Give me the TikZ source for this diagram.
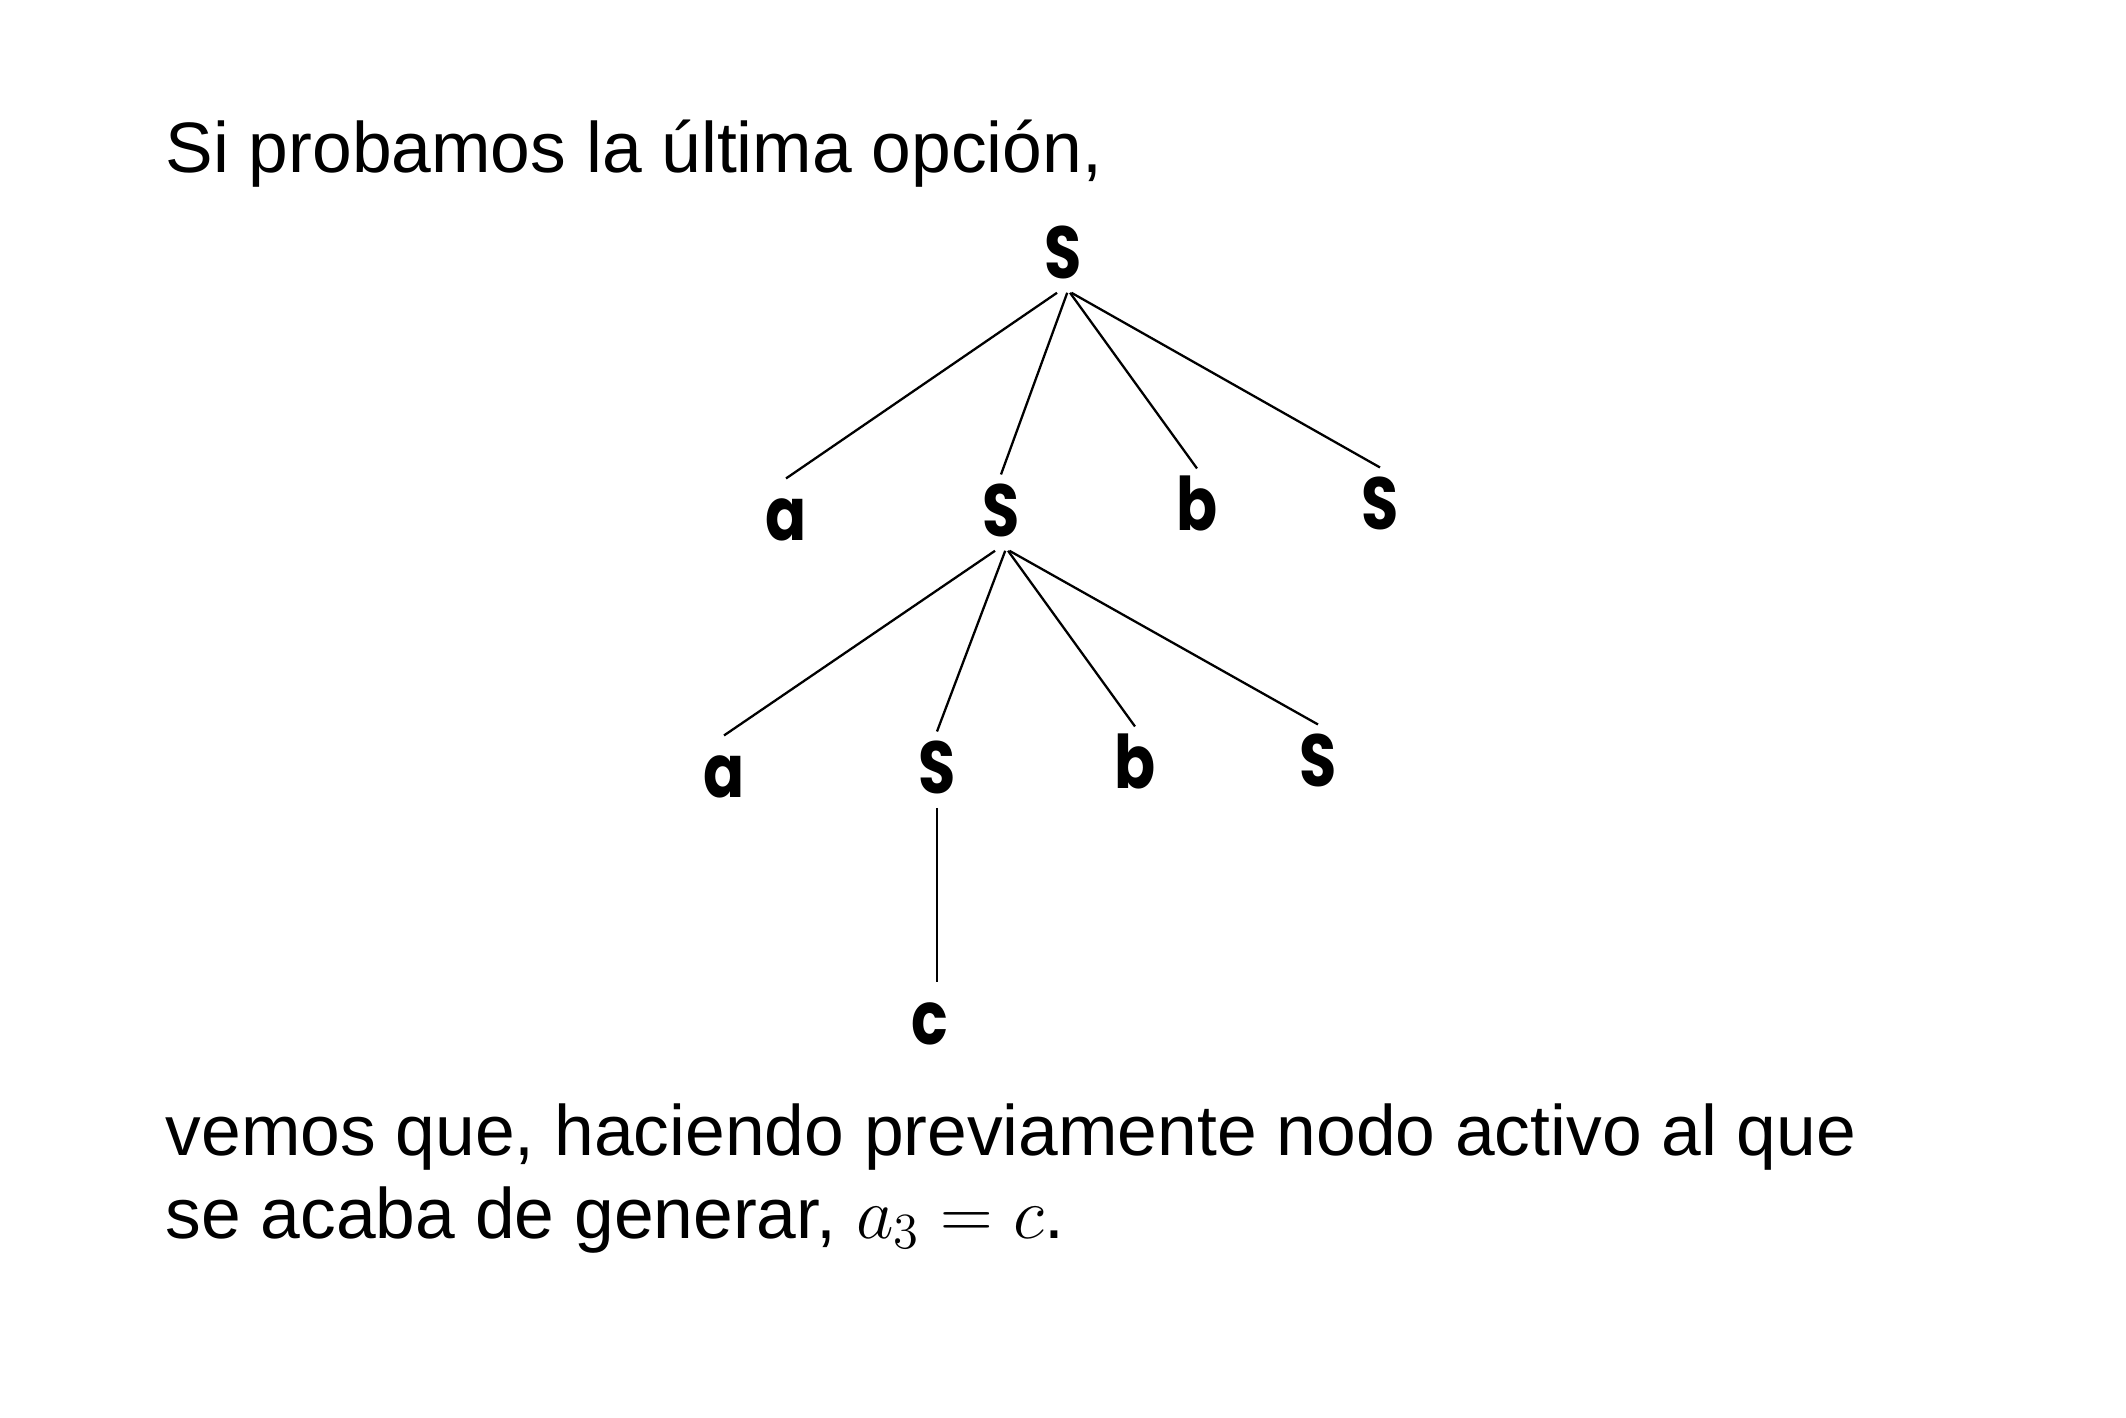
\documentclass[tikz,border=0pt]{standalone}
\usepackage{fontspec}
\setmainfont{Liberation Sans}
\newfontfamily\arbolfont{Poppins}[FakeStretch=0.82]
\usepackage{tikz}
\usetikzlibrary{positioning,calc}

\begin{document}
\begin{tikzpicture}[x=0.01cm,y=-0.01cm,
    texto/.style = {anchor=base west,inner sep=0pt,
                    font=\fontsize{20.3pt}{23.6pt}\selectfont},
    hoja/.style  = {anchor=base,inner xsep=2pt,inner ysep=4pt,
                    text height=13.3pt,text depth=0pt,
                    font={\fontsize{21pt}{23pt}\arbolfont\bfseries}},
    rama/.style  = {line width=0.65pt},
  ]
  \useasboundingbox (0,0) rectangle (2126,1417);

  % ── Texto superior ────────────────────────────────────────────────────────
  \node[texto] (arriba) at (165,172) {Si probamos la última opción,};

  % ── Nodos del árbol ───────────────────────────────────────────────────────
  \node[hoja] (raiz) at (1063,278) {S};
  \foreach \nom/\x/\y/\t in {a1/786/540/a, s1/1001/536/S, b1/1197/530/b,
                             t1/1380/529/S,
                             a2/724/797/a,  s2/937/793/S,  b2/1135/788/b,
                             t2/1318/786/S,
                             c3/930/1044/c}
    \node[hoja] (\nom) at (\x,\y) {\t};

  % ── Ramas ─────────────────────────────────────────────────────────────────
  \foreach \h/\d in {a1/-1.7,s1/1.2,b1/2,t1/2.4}
    \draw[rama] ([xshift=\d pt]raiz.south) -- (\h.north);
  \foreach \h/\d in {a2/-1.7,s2/1.2,b2/2,t2/2.4}
    \draw[rama] ([xshift=\d pt]s1.south) -- (\h.north);
  \draw[rama] (s2.south) -- (s2.south |- c3.north);

  % ── Texto inferior ────────────────────────────────────────────────────────
  \node[texto] (abajo1) at (165,1155)
       {vemos que, haciendo previamente nodo activo al que};
  \node[texto] (abajo2) at (165,1238)
       {se acaba de generar, $a_3 = c$.};

\end{tikzpicture}
\end{document}
